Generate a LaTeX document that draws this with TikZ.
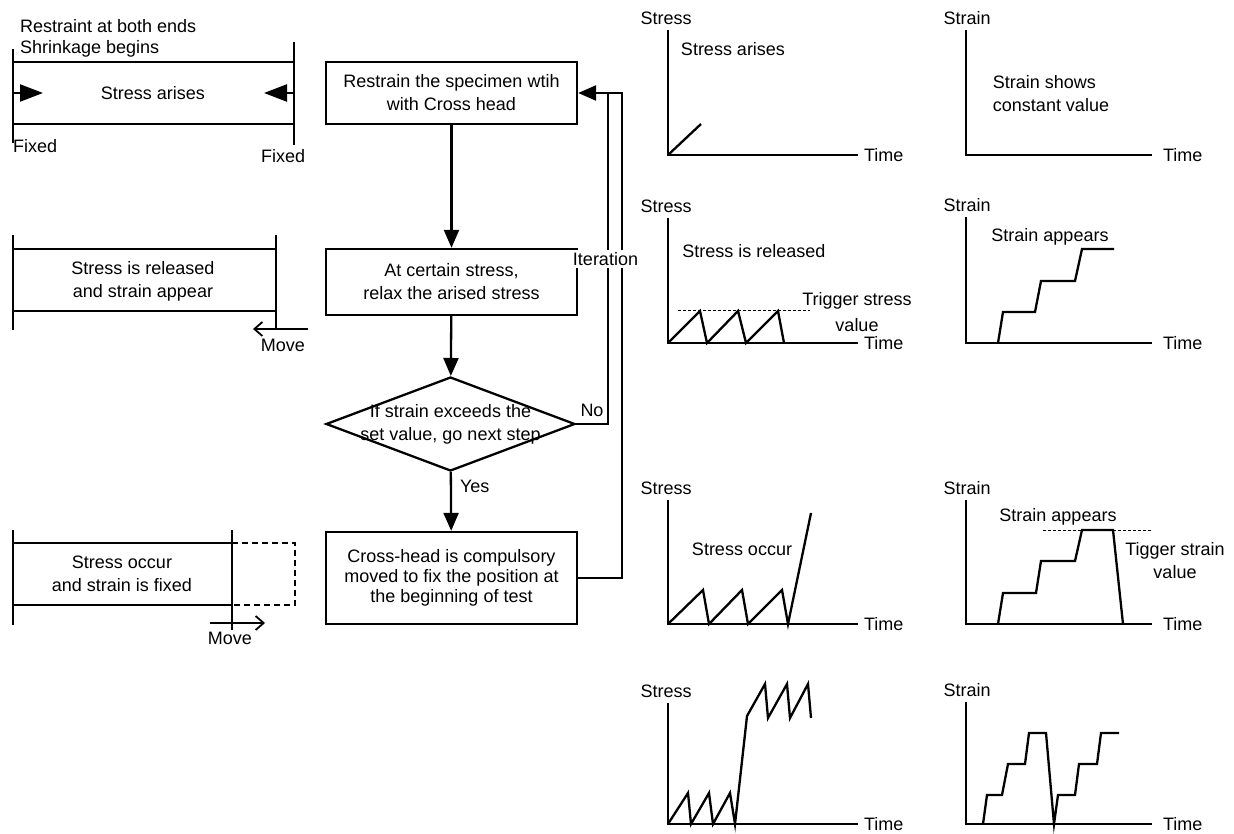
\documentclass[tikz,border=0pt]{standalone}
\usepackage{fontspec}
\setmainfont{Liberation Sans}
\usetikzlibrary{arrows.meta,shapes.geometric}

\begin{document}
\begin{tikzpicture}[x=1pt,y=-1pt,line width=2.3pt,
    font=\fontsize{18}{23}\selectfont,
    procbox/.style={draw,align=center,minimum width=251pt,inner sep=2pt},
    flow/.style={-{Triangle[length=18pt,width=15pt]}},
    push/.style={-{Triangle[length=23pt,width=17pt]}},
    move/.style={-{Straight Barb[length=8pt,width=14pt]},line width=1.8pt},
    trigger/.style={line width=1pt,densely dashed},
    txt/.style={inner sep=0pt}]
    \useasboundingbox (0,0) rectangle (1234,834);

    % specimen restrained at both ends
    \draw (13,49) -- (13,143) (294,42) -- (294,145);
    \draw (13,62) -- (294,62) (13,124) -- (294,124);
    \draw [push] (13,93) -- (43,93);
    \draw [push] (294,93) -- (264,93);
    \node [txt,anchor=west] (restraint) at (19,26) {Restraint at both ends};
    \node [txt,anchor=west] (shrink) at (19,49) {Shrinkage begins};
    \node (arises) at (153,93) {Stress arises};
    \node [txt,anchor=west] (fixedl) at (12,146) {Fixed};
    \node [txt,anchor=west] (fixedr) at (260,156) {Fixed};

    % specimen released
    \draw (13,235) -- (13,330) (276,235) -- (276,330);
    \draw (13,249) -- (276,249) (13,311) -- (276,311);
    \node [align=center] (released) at (143,281) {Stress is released\\and strain appear};
    \draw [move] (308,329) -- (253,329);
    \node [txt] (moveleft) at (283,345) {Move};

    % specimen pushed back
    \draw (13,530) -- (13,625) (232,530) -- (232,630);
    \draw (13,543) -- (232,543) (13,605) -- (232,605);
    \draw [dash pattern=on 6pt off 4pt] (232,543) -- (295,543) -- (295,605) -- (232,605);
    \node [align=center] (occur) at (122,574) {Stress occur\\and strain is fixed};
    \draw [move] (210,623) -- (265,623);
    \node [txt] (moveright) at (230,638) {Move};

    % flow chart
    \node [procbox,minimum height=62pt] (restrain) at (451.5,93) {Restrain the specimen wtih\\with Cross head};
    \node [procbox,minimum height=66pt] (relax) at (451.5,282) {At certain stress,\\relax the arised stress};
    \node [draw,diamond,minimum width=249pt,minimum height=94pt,inner sep=0pt] (check) at (450.5,424) {};
    \node [txt,align=center] (checktext) at (check.center) {If strain exceeds the\\set value, go next step};
    \node [procbox,minimum height=92pt,font=\fontsize{18}{20}\selectfont] (fix) at (451.5,578)
        {Cross-head is compulsory\\moved to fix the position at\\the beginning of test};
    \draw [flow] (restrain) -- (relax);
    \draw [flow] (relax) -- (check);
    \draw [flow] (check) -- node [txt,pos=0.25,anchor=west,xshift=8pt] (yes) {Yes} (fix);
    \coordinate (nocorner) at (608,93);
    \coordinate (backcorner) at (622,93);
    \draw (check.east) -| (nocorner);
    \draw [flow] (fix.east) -| (backcorner) -- (restrain.east);
    \node [txt] (no) at (592,410) {No};
    \node [fill=white,inner sep=2pt] (iter) at (605.5,259) {Iteration};

    % stress and strain axes
    \foreach \ya/\yb [count=\i] in {30/155,218/343,500/624,703/824} {
        \node (stresslab\i) at (666,\ya-12) {Stress};
        \draw (668,\ya) -- (668,\yb) -- (858,\yb) node [txt,anchor=west,xshift=5pt] (stresstime\i) {Time};
    }
    \foreach \ya/\yb [count=\i] in {30/155,217/343,500/624,702/824} {
        \node (strainlab\i) at (967,\ya-12) {Strain};
        \draw (966,\ya) -- (966,\yb) -- (1152,\yb) node [txt,anchor=west,xshift=10pt] (straintime\i) {Time};
    }

    % stress arises
    \draw (668,155) -- (701,124);
    \node (stressarises) at (733,49) {Stress arises};
    \node [align=left] (constant) at (1051,93.5) {Strain shows\\constant value};

    % stress released
    \draw [trigger] (678,311) -- (810,311);
    \draw (668,343) -- (700,311) -- (707,343) -- (738,311) -- (746,343) -- (778,311) -- (784,343);
    \node (stressreleased) at (754,251) {Stress is released};
    \node [align=center,font=\fontsize{18}{26}\selectfont] (triggerstress) at (857,312) {Trigger stress\\value};
    \draw (998,343) -- (1003,312) -- (1035,312) -- (1041,281) -- (1075,281) -- (1082,249) -- (1114,249);
    \node (strainappears) at (1050,237) {Strain appears};

    % stress occur
    \draw (668,624) -- (703,590) -- (709,624) -- (742,590) -- (748,624) -- (782,590) -- (788,624) -- (811,513);
    \node (stressoccur) at (742,549) {Stress occur};
    \draw [trigger] (1043,530) -- (1152,530);
    \draw (998,624) -- (1003,593) -- (1036,593) -- (1041,561) -- (1075,561) -- (1082,530) -- (1113,530) -- (1123,624);
    \node (strainappears2) at (1058,517) {Strain appears};
    \node [align=center] (triggerstrain) at (1175,561) {Tigger strain\\value};

    % iteration
    \draw (668,824) -- (688,793) -- (691,824) -- (709,793) -- (713,824) -- (730,793) -- (735,824)
        -- (747,716) -- (765,684) -- (768,718) -- (787,684) -- (790,718) -- (808,684) -- (811,718);
    \draw (983,824) -- (987,795) -- (1002,795) -- (1008,764) -- (1025,764) -- (1029,733) -- (1046,733)
        -- (1054,824) -- (1058,795) -- (1075,795) -- (1079,764) -- (1097,764) -- (1101,733) -- (1119,733);
\end{tikzpicture}
\end{document}
